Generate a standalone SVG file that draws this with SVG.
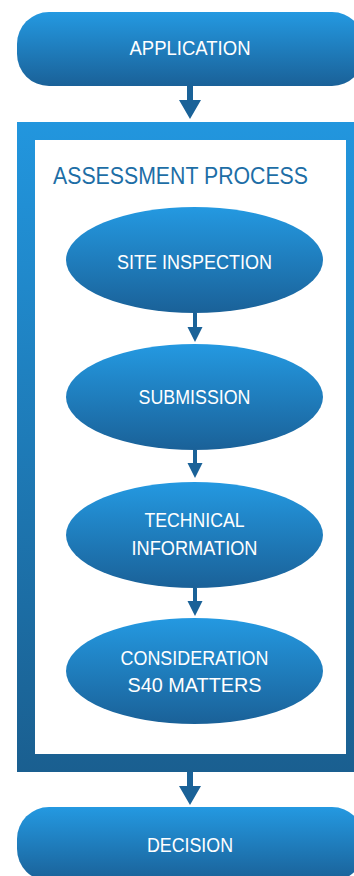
<svg xmlns="http://www.w3.org/2000/svg" width="354" height="876" viewBox="0 0 354 876">
<defs>
<linearGradient id="g" x1="0" y1="0" x2="0" y2="1">
<stop offset="0" stop-color="#2499e1"/>
<stop offset="1" stop-color="#1a6198"/>
</linearGradient>
<linearGradient id="gb" x1="0" y1="0" x2="0" y2="1">
<stop offset="0" stop-color="#2296de"/>
<stop offset="1" stop-color="#1a5f90"/>
</linearGradient>
<style>
.t{fill:#ffffff;font-family:"Liberation Sans",Arial,sans-serif;font-size:20px;text-anchor:middle;}
.ti{fill:#1d6ea6;font-family:"Liberation Sans",Arial,sans-serif;font-size:23px;}
.a{fill:#1a6298;}
</style>
</defs>
<rect width="354" height="876" fill="#ffffff"/>
<g id="process">
<rect x="17" y="122" width="347" height="650" fill="url(#gb)"/>
<rect x="35" y="140" width="311" height="614" fill="#ffffff"/>
<text class="ti" x="53" y="184" textLength="255" lengthAdjust="spacingAndGlyphs">ASSESSMENT PROCESS</text>
</g>
<g id="connectors">
<path class="a" d="M187,86 H193 V100 H201 L190,119 L179,100 H187 Z"/>
<path class="a" d="M193,313 H197 V327 H202.5 L195,342 L187.5,327 H193 Z"/>
<path class="a" d="M193,450 H197 V463 H202.5 L195,478 L187.5,463 H193 Z"/>
<path class="a" d="M193,588 H197 V601 H202.5 L195,616 L187.5,601 H193 Z"/>
<path class="a" d="M187,772 H193 V786 H201 L190,805 L179,786 H187 Z"/>
</g>
<g id="application">
<rect x="17" y="12" width="347" height="74" rx="32" fill="url(#g)"/>
<text class="t" x="190" y="55" textLength="121" lengthAdjust="spacingAndGlyphs">APPLICATION</text>
</g>
<g id="site-inspection">
<ellipse cx="194.5" cy="260" rx="128.5" ry="53" fill="url(#g)"/>
<text class="t" x="194.5" y="269" textLength="155" lengthAdjust="spacingAndGlyphs">SITE INSPECTION</text>
</g>
<g id="submission">
<ellipse cx="194.5" cy="397" rx="128.5" ry="53" fill="url(#g)"/>
<text class="t" x="194.5" y="404" textLength="112" lengthAdjust="spacingAndGlyphs">SUBMISSION</text>
</g>
<g id="technical-information">
<ellipse cx="194.5" cy="535" rx="128.5" ry="53" fill="url(#g)"/>
<text class="t" x="194.5" y="527" textLength="100" lengthAdjust="spacingAndGlyphs">TECHNICAL</text>
<text class="t" x="194.5" y="555" textLength="126" lengthAdjust="spacingAndGlyphs">INFORMATION</text>
</g>
<g id="consideration">
<ellipse cx="194.5" cy="671" rx="128.5" ry="53" fill="url(#g)"/>
<text class="t" x="194.5" y="665" textLength="148" lengthAdjust="spacingAndGlyphs">CONSIDERATION</text>
<text class="t" x="194.5" y="692" textLength="134" lengthAdjust="spacingAndGlyphs">S40 MATTERS</text>
</g>
<g id="decision">
<rect x="17" y="807" width="347" height="74" rx="32" fill="url(#g)"/>
<text class="t" x="190" y="852" textLength="86" lengthAdjust="spacingAndGlyphs">DECISION</text>
</g>
</svg>
